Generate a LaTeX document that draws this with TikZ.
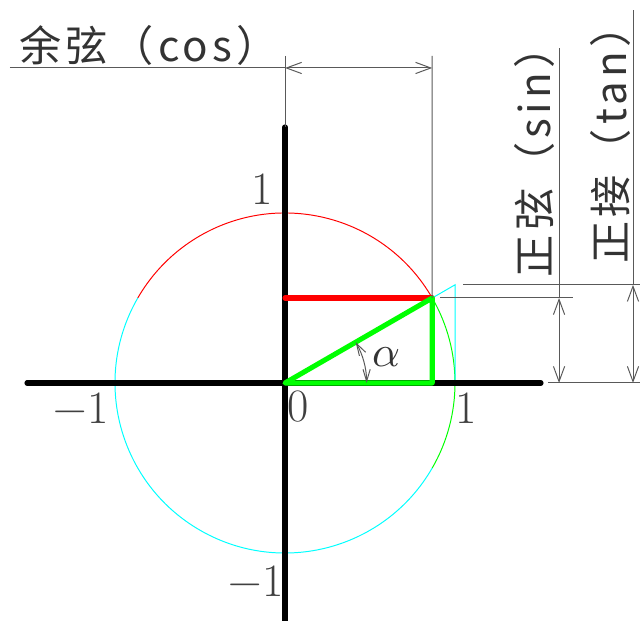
\documentclass[tikz,border=0pt]{standalone}
\usepackage{fontspec}
\newfontfamily\cjk[LetterSpace=10]{Noto Sans CJK SC}
\usetikzlibrary{arrows.meta,calc}
\definecolor{cadred}{RGB}{255,0,0}
\definecolor{cadgreen}{RGB}{0,255,0}
\definecolor{cadcyan}{RGB}{0,255,255}
\begin{document}
\begin{tikzpicture}[x=4.25cm,y=4.25cm,
  axisline/.style={line width=3.6pt,line cap=round},
  arcline/.style={line width=0.7pt},
  dimline/.style={line width=0.7pt,black!65},
  dimarrows/.style={dimline,{Straight Barb[length=3.8mm,width=2.8mm]}-{Straight Barb[length=3.8mm,width=2.8mm]}},
  numlabel/.style={font=\fontsize{33}{33}\selectfont,text=black!75,inner sep=0pt},
  cjklabel/.style={font=\cjk\fontsize{30}{30}\selectfont,text=black!80,inner sep=0pt}]
\useasboundingbox (-1.6765,-1.4) rectangle (2.0882,2.2529);
\coordinate (O) at (0,0);
\coordinate (P) at (30:1);
\coordinate (Px) at (0.866,0);
\coordinate (Py) at (0,0.5);
\coordinate (T) at (1,0.5774);
\coordinate (T0) at (1,0);
\coordinate (xl) at (-1.518,0); \coordinate (xr) at (1.506,0);
\coordinate (yt) at (0,1.506); \coordinate (yb) at (0,-1.45);
\draw[arcline,cadred] (30:1) arc (30:150:1);
\draw[arcline,cadcyan] (150:1) arc (150:330:1);
\draw[arcline,cadgreen] (330:1) arc (330:390:1);
\draw[arcline,cadcyan] (P) -- (T) -- (T0);
\draw[axisline] (xl) -- (xr);
\draw[axisline] (yt) -- (yb);
\draw[axisline,cadred] (Py) -- (P);
\draw[axisline,cadgreen,line join=round] (O) -- (P) -- (Px) -- cycle;
\draw[dimline] (0,1.924) -- (yt);
\draw[dimline] (0.866,1.924) -- (P);
\draw[dimline] (-1.618,1.853) -- (0,1.853);
\draw[dimarrows] (0,1.853) -- (0.866,1.853);
\draw[dimline] (0.912,0.5) -- (1.694,0.5);
\draw[dimline] (1.547,0) -- (2.088,0);
\draw[dimline] (1.047,0.5774) -- (2.088,0.5774);
\draw[dimarrows] (1.612,0) -- (1.612,0.5);
\draw[dimline] (1.612,0.5) -- (1.612,1.971);
\draw[dimarrows] (2.047,0) -- (2.047,0.5774);
\draw[dimline] (2.047,0.5774) -- (2.047,2.194);
\draw[dimline,{Straight Barb[length=3mm,width=1.8mm]}-{Straight Barb[length=3mm,width=1.8mm]}] (0.48,0) arc (0:30:0.48);
\node[cjklabel,anchor=base] (cos) at (-0.8,1.894) {余弦（cos）};
\node[cjklabel,rotate=90] (sin) at (1.465,1.36) {正弦（sin）};
\node[cjklabel,rotate=90] (tan) at (1.912,1.46) {正接（tan）};
\node[text=black!80] (alpha) at (0.595,0.15) {\scalebox{3.1}{$\alpha$}};
\node[numlabel] (ytop) at (-0.135,1.141) {1};
\node[numlabel] (xleft) at (-1.2,-0.147) {−1};
\node[numlabel] (orig) at (0.076,-0.141) {0};
\node[numlabel] (xright) at (1.065,-0.147) {1};
\node[numlabel] (ybot) at (-0.17,-1.165) {−1};
\end{tikzpicture}
\end{document}
